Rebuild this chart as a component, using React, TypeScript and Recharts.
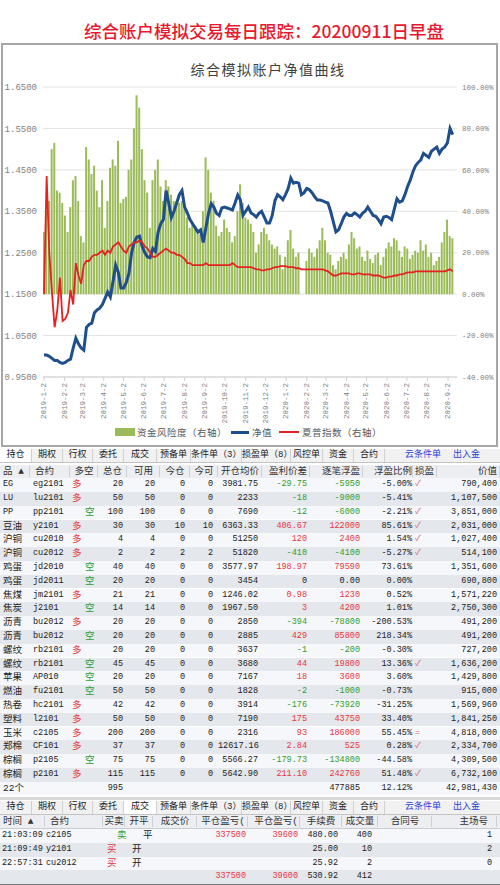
import React from 'react';
import { ComposedChart, Bar, Line, XAxis, YAxis, CartesianGrid } from 'recharts';

// one point every 4 calendar days starting 2019-1-2
const STEP_DAYS = 4;
const START_UTC = Date.UTC(2019, 0, 2);
const DAY_MS = 86400000;

// 资金风险度 (%), right axis
const RISK = [
  30, 40, 45, 70, 73, 50, 49, 44, 38, 30,
  42, 55, 57, 45, 28, 25, 71, 65, 58, 62,
  50, 42, 55, 32, 45, 61, 65, 62, 74, 44,
  46, 47, 60, 65, 80, 96, 90, 70, 55, 49,
  32, 55, 60, 65, 52, 45, 55, 52, 48, 45,
  45, 44, 45, 42, 37, 32, 34, 32, 30, 29,
  40, 66, 60, 49, 45, 33, 28, 30, 36, 32,
  30, 25, 28, 40, 53, 44, 37, 36, 34, 30,
  20, 24, 30, 32, 29, 26, 24, 22, 23, 19,
  12, 18, 26, 31, 22, 18, 20, 0, 0, 16,
  22, 20, 18, 22, 26, 32, 26, 20, 19, 14,
  12, 16, 18, 20, 17, 24, 30, 27, 22, 23,
  18, 16, 21, 17, 15, 19, 20, 14, 18, 22,
  25, 23, 27, 26, 21, 18, 23, 22, 17, 19,
  21, 20, 26, 21, 24, 18, 20, 14, 16, 18,
  25, 30, 36, 28, 27,
];

// 净值, left axis
const NAV = [
  1.003, 1.003, 1.0, 0.995, 0.99, 0.99, 0.985, 0.983, 0.985, 0.99,
  0.993, 1.02, 1.044, 1.03, 1.02, 1.015, 1.07, 1.077, 1.08, 1.105,
  1.112, 1.116, 1.125, 1.14, 1.155, 1.143, 1.18, 1.22, 1.203, 1.165,
  1.165, 1.178, 1.2, 1.25, 1.275, 1.288, 1.29, 1.265, 1.25, 1.24,
  1.238, 1.26, 1.253, 1.3, 1.32, 1.33, 1.4, 1.37, 1.335, 1.35,
  1.37, 1.39, 1.4, 1.36, 1.346, 1.33, 1.32, 1.31, 1.3, 1.305,
  1.275, 1.31, 1.345, 1.368, 1.36, 1.345, 1.34, 1.358, 1.36, 1.358,
  1.356, 1.353, 1.37, 1.389, 1.377, 1.34, 1.35, 1.36, 1.346, 1.342,
  1.336, 1.345, 1.35, 1.336, 1.322, 1.322, 1.34, 1.375, 1.39, 1.385,
  1.378, 1.39, 1.405, 1.43, 1.418, 1.42, 1.418, 1.39, 1.395, 1.405,
  1.402, 1.395, 1.385, 1.377, 1.377, 1.375, 1.372, 1.37, 1.35, 1.325,
  1.3, 1.305, 1.32, 1.336, 1.345, 1.34, 1.34, 1.346, 1.342, 1.336,
  1.345, 1.35, 1.36, 1.35, 1.34, 1.338, 1.33, 1.32, 1.336, 1.338,
  1.335, 1.33, 1.355, 1.38, 1.372, 1.375, 1.39, 1.41, 1.425, 1.445,
  1.46, 1.468, 1.474, 1.49, 1.485, 1.48, 1.495, 1.5, 1.505, 1.49,
  1.5, 1.505, 1.515, 1.55, 1.535,
];

// 夏普指数 (%), right axis
const SHARPE = [
  0, 57, 20, 1, -16, -8, 8, -13, -12, -9,
  2, -5, 15, 9, 5, 14, 16, 16, 18, 19,
  19, 20, 21, 19, 21, 20, 23, 24, 25, 23,
  21, 20, 23, 24, 25, 25, 26, 25, 23, 22,
  20, 18, 18, 19, 20, 21, 22, 21, 20, 20,
  19, 19, 18, 17, 15, 15, 14, 14, 14, 14,
  14, 15, 14, 14, 14, 14, 14, 14, 14, 14,
  14, 15, 14, 13, 13, 13, 13, 13, 13, 12.5,
  12, 12, 11.5, 11.5, 12, 12, 12.5, 13, 13, 13.5,
  13.5, 13.5, 13, 13, 13, 12.5, 12.5, 12, 12, 12,
  12, 12, 12, 12, 12, 12, 11.5, 11, 10, 9,
  9, 9.5, 10, 10, 10, 10, 9.5, 9.5, 10, 10,
  9.5, 9.5, 9.5, 9.5, 9, 9, 9, 8.5, 8, 8,
  8.5, 8.5, 9, 9, 9.5, 9.5, 10, 10.5, 10.5, 10.5,
  11, 11, 11, 11, 11, 11, 11, 11, 11, 11,
  11, 11, 11.5, 12, 11,
];

const MONTH_LABELS = [
  '2019-1-2', '2019-2-2', '2019-3-2', '2019-4-2', '2019-5-2', '2019-6-2', '2019-7-2',
  '2019-8-2', '2019-9-2', '2019-10-2', '2019-11-2', '2019-12-2', '2020-1-2', '2020-2-2',
  '2020-3-2', '2020-4-2', '2020-5-2', '2020-6-2', '2020-7-2', '2020-8-2', '2020-9-2',
];
const NAV_TICKS = [0.95, 1.05, 1.15, 1.25, 1.35, 1.45, 1.55, 1.65];
const PCT_TICKS = [-40, -20, 0, 20, 40, 60, 80, 100];

const dayOf = (s: string) => {
  const [y, m, d] = s.split('-').map(Number);
  return Math.round((Date.UTC(y, m - 1, d) - START_UTC) / DAY_MS);
};
const MONTH_DAYS = MONTH_LABELS.map(dayOf);
const labelOfDay = new Map(MONTH_DAYS.map((d, i) => [d, MONTH_LABELS[i]]));

const chartData = RISK.map((r, i) => ({ day: i * STEP_DAYS, risk: r, nav: NAV[i], sharpe: SHARPE[i] }));

// ---- tables ----
const TOP_TABS: [string, number, number][] = [
  ['持仓', 0, 32], ['期权', 32, 63], ['行权', 63, 93], ['委托', 93, 124], ['成交', 124, 157],
  ['预备单', 157, 191], ['条件单（3）', 191, 242], ['损盈单（8）', 242, 291], ['风控单', 291, 323],
  ['资金', 323, 354], ['合约', 354, 385],
];
const HOLD_HEAD = ['品 ▲', '合约', '多空', '总仓', '可用', '今仓', '今可', '开仓均价', '盈利价差', '逐笔浮盈', '浮盈比例', '损盈', '价值'];
const HOLD_ROWS = [
  ['EG', 'eg2101', '多', '20', '20', '0', '0', '3981.75', '-29.75', '-5950', '-5.00%', '✓', '790,400'],
  ['LU', 'lu2101', '多', '50', '50', '0', '0', '2233', '-18', '-9000', '-5.41%', '', '1,107,500'],
  ['PP', 'pp2101', '空', '100', '100', '0', '0', '7690', '-12', '-6000', '-2.21%', '✓', '3,851,000'],
  ['豆油', 'y2101', '多', '30', '30', '10', '10', '6363.33', '406.67', '122000', '85.61%', '✓', '2,031,000'],
  ['沪铜', 'cu2010', '多', '4', '4', '0', '0', '51250', '120', '2400', '1.54%', '✓', '1,027,400'],
  ['沪铜', 'cu2012', '多', '2', '2', '2', '2', '51820', '-410', '-4100', '-5.27%', '✓', '514,100'],
  ['鸡蛋', 'jd2010', '空', '40', '40', '0', '0', '3577.97', '198.97', '79590', '73.61%', '', '1,351,600'],
  ['鸡蛋', 'jd2011', '空', '20', '20', '0', '0', '3454', '0', '0.00', '0.00%', '', '690,800'],
  ['焦煤', 'jm2101', '多', '21', '21', '0', '0', '1246.02', '0.98', '1230', '0.52%', '', '1,571,220'],
  ['焦炭', 'j2101', '空', '14', '14', '0', '0', '1967.50', '3', '4200', '1.01%', '', '2,750,300'],
  ['沥青', 'bu2012', '多', '20', '20', '0', '0', '2850', '-394', '-78800', '-200.53%', '', '491,200'],
  ['沥青', 'bu2012', '空', '20', '20', '0', '0', '2885', '429', '85800', '218.34%', '', '491,200'],
  ['螺纹', 'rb2101', '多', '20', '20', '0', '0', '3637', '-1', '-200', '-0.30%', '', '727,200'],
  ['螺纹', 'rb2101', '空', '45', '45', '0', '0', '3680', '44', '19800', '13.36%', '✓', '1,636,200'],
  ['苹果', 'AP010', '空', '20', '20', '0', '0', '7167', '18', '3600', '3.60%', '', '1,429,800'],
  ['燃油', 'fu2101', '空', '50', '50', '0', '0', '1828', '-2', '-1000', '-0.73%', '', '915,000'],
  ['热卷', 'hc2101', '多', '42', '42', '0', '0', '3914', '-176', '-73920', '-31.25%', '', '1,569,960'],
  ['塑料', 'l2101', '多', '50', '50', '0', '0', '7190', '175', '43750', '33.40%', '', '1,841,250'],
  ['玉米', 'c2105', '多', '200', '200', '0', '0', '2316', '93', '186000', '55.45%', '=', '4,818,000'],
  ['郑棉', 'CF101', '多', '37', '37', '0', '0', '12617.16', '2.84', '525', '0.28%', '✓', '2,334,700'],
  ['棕榈', 'p2105', '空', '75', '75', '0', '0', '5566.27', '-179.73', '-134800', '-44.58%', '', '4,309,500'],
  ['棕榈', 'p2101', '多', '115', '115', '0', '0', '5642.90', '211.10', '242760', '51.48%', '✓', '6,732,100'],
];
const HOLD_TOTAL = ['22个', '', '', '995', '', '', '', '', '', '477885', '12.12%', '', '42,981,430'];

const TRADE_HEAD = ['时间 ▲', '合约', '买卖', '开平', '成交价', '平仓盈亏(', '平仓盈亏(', '手续费', '成交量', '合同号', '主场号'];
const TRADE_ROWS = [
  ['21:03:09', 'c2105', '卖', '平', '', '337500', '39600', '480.00', '400', '', '1'],
  ['21:09:49', 'y2101', '买', '开', '', '', '', '25.00', '10', '', '2'],
  ['22:57:31', 'cu2012', '买', '开', '', '', '', '25.92', '2', '', '0'],
];
const TRADE_TOTAL = ['', '', '', '', '', '337500', '39600', '530.92', '412', '', ''];

type Col = [number, number, 'left' | 'right' | 'center', number];
const HOLD_COLS: Col[] = [
  [0, 30, 'left', 3], [30, 40, 'left', 3], [70, 28, 'left', 2], [98, 29, 'right', 4], [127, 33, 'right', 5],
  [160, 30, 'right', 5], [190, 28, 'right', 5], [218, 44, 'right', 4], [262, 48, 'right', 3], [310, 53, 'right', 3],
  [363, 50, 'right', 1], [413, 24, 'left', 2], [437, 63, 'right', 3],
];
const HOLD_HEAD_ALIGN = ['left', 'left', 'center', 'center', 'center', 'center', 'center', 'center', 'right', 'right', 'right', 'left', 'right'];
const TRADE_COLS: Col[] = [
  [0, 45, 'left', 2], [45, 58, 'left', 1], [103, 22, 'left', 4], [125, 28, 'left', 7], [153, 44, 'right', 3],
  [197, 51, 'right', 2], [248, 52, 'right', 2], [300, 42, 'right', 4], [342, 36, 'right', 6], [378, 54, 'right', 3],
  [432, 65, 'right', 5],
];
const TRADE_HEAD_ALIGN = ['left', 'left', 'center', 'center', 'center', 'right', 'right', 'center', 'center', 'center', 'right'];

const RED = '#e8383d';
const GREEN = '#2f9e2f';
const ROW_H = 13.8;
const CJK = /[\u3000-\u9fff\uff00-\uffef]/;
const MONO = "'Liberation Mono', 'Noto Sans CJK SC', monospace";

function numColor(t: string) {
  if (!t) return '#222';
  if (t.startsWith('-')) return GREEN;
  return parseFloat(t) > 0 ? RED : '#222';
}

function Cell({ col, text, top, h, color, pad, align }: any) {
  const [x, w, a, p] = col as Col;
  const al = align || a;
  const pd = pad ?? p;
  return (
    <div
      style={{
        position: 'absolute', left: x, top, width: w, height: h, lineHeight: `${h}px`,
        textAlign: al, boxSizing: 'border-box',
        paddingLeft: al === 'left' ? pd : 0, paddingRight: al === 'right' ? pd : 0,
        fontFamily: MONO, fontSize: CJK.test(text) ? 9.5 : 8.5, color: color || '#222',
        whiteSpace: 'nowrap', overflow: 'visible',
      }}
    >
      {text}
    </div>
  );
}

function Tabs({ top, selected }: { top: number; selected: number }) {
  return (
    <div style={{ position: 'absolute', left: 0, top, width: 500, height: 13, background: '#f1f1f1', borderBottom: '1px solid #c4c4c4' }}>
      {TOP_TABS.map(([t, x0, x1], i) => (
        <div key={i} style={{
          position: 'absolute', left: x0, top: 0, width: x1 - x0, height: 13, lineHeight: '13px', textAlign: 'center',
          fontFamily: MONO, fontSize: 9, color: '#222', background: i === selected ? '#fff' : 'transparent',
          borderRight: '1px solid #cfcfcf', boxSizing: 'border-box', whiteSpace: 'nowrap',
        }}>{t}</div>
      ))}
      <div style={{ position: 'absolute', left: 405, top: 0, height: 13, lineHeight: '13px', fontFamily: MONO, fontSize: 9, color: '#2a3fd8' }}>云条件单</div>
      <div style={{ position: 'absolute', left: 453, top: 0, height: 13, lineHeight: '13px', fontFamily: MONO, fontSize: 9, color: '#2a3fd8' }}>出入金</div>
    </div>
  );
}

function Header({ top, cols, labels, aligns, pads }: any) {
  return (
    <div style={{ position: 'absolute', left: 0, top, width: 500, height: 13, background: '#eceef1', borderBottom: '1px solid #c9ccd1' }}>
      {cols.map((c: Col, i: number) => (
        <React.Fragment key={i}>
          <Cell col={c} text={labels[i]} top={0} h={13} align={aligns[i]} pad={pads[i]} color="#333" />
          <div style={{ position: 'absolute', left: c[0] + c[1] - 1, top: 1, width: 1, height: 11, background: '#cdd0d5' }} />
        </React.Fragment>
      ))}
    </div>
  );
}

function HoldingTable() {
  const top0 = 478.1;
  const headPads = [3, 5, 0, 0, 0, 0, 0, 0, 3, 3, 1, 2, 3];
  return (
    <>
      <Tabs top={449} selected={0} />
      <Header top={465} cols={HOLD_COLS} labels={HOLD_HEAD} aligns={HOLD_HEAD_ALIGN} pads={headPads} />
      {[...HOLD_ROWS, HOLD_TOTAL].map((r, ri) => {
        const top = top0 + ri * ROW_H;
        return (
          <div key={ri} style={{ position: 'absolute', left: 0, top, width: 500, height: ROW_H, background: ri % 2 ? '#e4e7eb' : '#f5f7fa' }}>
            {r.map((t, ci) => {
              let color = '#222';
              let pad: number | undefined;
              if (ci === 2) { color = t === '多' ? RED : GREEN; pad = t === '空' ? 15 : 2; }
              if ((ci === 8 || ci === 9) && ri < HOLD_ROWS.length) color = numColor(t);
              if (ci === 11) color = '#e06070';
              return <Cell key={ci} col={HOLD_COLS[ci]} text={t} top={0} h={ROW_H} color={color} pad={pad} />;
            })}
          </div>
        );
      })}
    </>
  );
}

function TradeTable() {
  const headPads = [3, 5, 0, 0, 0, 3, 2, 0, 0, 0, 9];
  return (
    <>
      <div style={{ position: 'absolute', left: 0, top: 797, width: 500, height: 3, background: '#d8d8d8' }} />
      <Tabs top={801} selected={4} />
      <Header top={815} cols={TRADE_COLS} labels={TRADE_HEAD} aligns={TRADE_HEAD_ALIGN} pads={headPads} />
      {[...TRADE_ROWS, TRADE_TOTAL].map((r, ri) => {
        const top = 829 + ri * ROW_H;
        return (
          <div key={ri} style={{ position: 'absolute', left: 0, top, width: 500, height: ROW_H, background: ri % 2 ? '#e4e7eb' : '#f5f7fa' }}>
            {r.map((t, ci) => {
              let color = '#222';
              let pad: number | undefined;
              if (ci === 2) { color = t === '买' ? RED : GREEN; pad = t === '卖' ? 14 : 4; }
              if (ci === 3) pad = t === '平' ? 18 : 7;
              if (ci === 5 || ci === 6) color = RED;
              return <Cell key={ci} col={TRADE_COLS[ci]} text={t} top={0} h={ROW_H} color={color} pad={pad} />;
            })}
          </div>
        );
      })}
      <div style={{ position: 'absolute', left: 0, top: 884, width: 500, height: 1, background: '#777' }} />
    </>
  );
}

function MonthTick({ x, y, payload }: any) {
  return (
    <text
      x={x} y={y} transform={`rotate(-90 ${x} ${y})`} textAnchor="end" dominantBaseline="central"
      fontFamily="'Liberation Mono', monospace" fontSize={7.5} fill="#7f7f7f"
    >
      {labelOfDay.get(payload.value) ?? ''}
    </text>
  );
}

const legendText: React.CSSProperties = {
  position: 'absolute', top: 425, height: 14, lineHeight: '14px', fontFamily: "'Noto Sans CJK SC', sans-serif",
  fontSize: 9.5, letterSpacing: 0.5, color: '#595959', whiteSpace: 'nowrap',
};

export default function App() {
  return (
    <div style={{ position: 'absolute', left: 0, top: 0, width: 500, height: 885, background: '#fff', overflow: 'hidden' }}>
      <div style={{
        position: 'absolute', left: 78, top: 19, width: 372, height: 24, lineHeight: '24px', textAlign: 'center',
        fontFamily: "'Noto Sans CJK SC', sans-serif", fontSize: 17.5, fontWeight: 500, color: '#e8192c', whiteSpace: 'nowrap',
      }}>
        综合账户模拟交易每日跟踪：20200911日早盘
      </div>
      <div style={{ position: 'absolute', left: 1, top: 43, width: 497, height: 404, border: '2px solid #a6a6a6', boxSizing: 'border-box' }} />
      <div style={{
        position: 'absolute', left: 165, top: 59, width: 206, height: 20, lineHeight: '20px', textAlign: 'center',
        fontFamily: "'Noto Sans CJK SC', sans-serif", fontSize: 14, letterSpacing: 1.5, color: '#404040',
      }}>
        综合模拟账户净值曲线
      </div>
      <div style={{ position: 'absolute', left: 0, top: 0 }}>
        <ComposedChart width={500} height={447} data={chartData} margin={{ top: 87, right: 0, bottom: 25, left: 0 }}>
          <CartesianGrid yAxisId="left" vertical={false} stroke="#e3e3e3" />
          <XAxis
            dataKey="day" type="number" domain={[-1.5, 622.5]} allowDataOverflow ticks={MONTH_DAYS}
            interval={0} height={45} tick={<MonthTick />} tickSize={4} tickMargin={2}
            axisLine={{ stroke: '#d0d0d0' }} tickLine={{ stroke: '#d0d0d0' }}
          />
          <YAxis
            yAxisId="left" orientation="left" width={43} domain={[0.95, 1.65]} allowDataOverflow ticks={NAV_TICKS}
            interval={0} axisLine={false} tickLine={false} tickSize={0} tickMargin={6} tickFormatter={(v: number) => v.toFixed(4)}
            tick={{ fontFamily: "'Liberation Mono', monospace", fontSize: 9, fill: '#7f7f7f' }}
          />
          <YAxis
            yAxisId="right" orientation="right" width={43} domain={[-40, 100]} allowDataOverflow ticks={PCT_TICKS}
            interval={0} axisLine={false} tickLine={false} tickSize={0} tickMargin={5} tickFormatter={(v: number) => `${v.toFixed(2)}%`}
            tick={{ fontFamily: "'Liberation Mono', monospace", fontSize: 7.5, fill: '#7f7f7f' }}
          />
          <Bar yAxisId="right" dataKey="risk" fill="#9bbb59" barSize={2} isAnimationActive={false} />
          <Line yAxisId="left" dataKey="nav" stroke="#1f4e8c" strokeWidth={3} dot={false} isAnimationActive={false} />
          <Line yAxisId="right" dataKey="sharpe" stroke="#e52222" strokeWidth={1.8} dot={false} isAnimationActive={false} />
        </ComposedChart>
      </div>
      <div style={{ position: 'absolute', left: 115, top: 428, width: 20, height: 8, background: '#9bbb59' }} />
      <div style={{ ...legendText, left: 137 }}>资金风险度（右轴）</div>
      <div style={{ position: 'absolute', left: 231, top: 431, width: 18, height: 3, background: '#1f4e8c' }} />
      <div style={{ ...legendText, left: 252 }}>净值</div>
      <div style={{ position: 'absolute', left: 279, top: 431, width: 20, height: 2, background: '#e52222' }} />
      <div style={{ ...legendText, left: 302 }}>夏普指数（右轴）</div>
      <HoldingTable />
      <TradeTable />
    </div>
  );
}
